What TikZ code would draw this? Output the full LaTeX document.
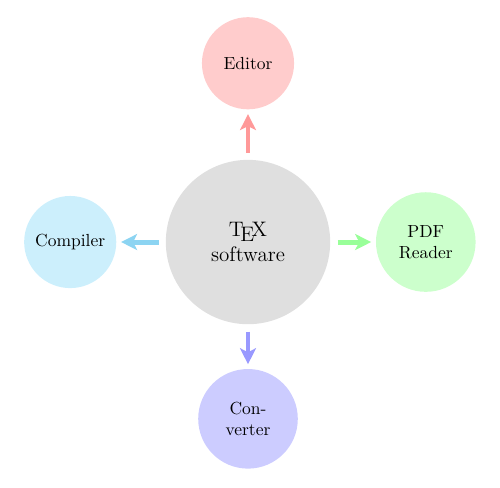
\documentclass[tikz,border=0pt]{standalone}
\usepackage{tikz}
\usetikzlibrary{arrows.meta}
\definecolor{compblue}{RGB}{204,239,252}
\definecolor{compbluearrow}{RGB}{140,212,242}

\begin{document}
\begin{tikzpicture}[
    hub/.style={circle, fill=gray!25, minimum size=3.3cm, align=center, font=\large},
    tool/.style={circle, minimum size=1.85cm, align=center, inner sep=1pt},
    feed/.style={line width=1mm, -{Stealth[length=3.2mm, width=3.2mm, inset=0.8mm]},
                 shorten <=1.4mm, shorten >=0.9mm}
  ]
    \useasboundingbox (-4.98,-4.92) rectangle (5.06,4.86);
    \node[hub] (tex) at (0,0) {\TeX\\software};
    \node[tool, fill=red!20] (editor) at (0,3.59) {Editor};
    \node[tool, fill=compblue] (compiler) at (-3.57,0) {Compiler};
    \node[tool, fill=green!20, minimum size=2cm] (reader) at (3.57,0) {PDF\\Reader};
    \node[tool, fill=blue!20, minimum size=2cm] (converter) at (0,-3.55) {Con-\\verter};
    % arrows from the hub
    \draw[feed, red!40] (tex) -- (editor);
    \draw[feed, compbluearrow] (tex) -- (compiler);
    \draw[feed, green!40] (tex) -- (reader);
    \draw[feed, blue!40] (tex) -- (converter);
\end{tikzpicture}
\end{document}
